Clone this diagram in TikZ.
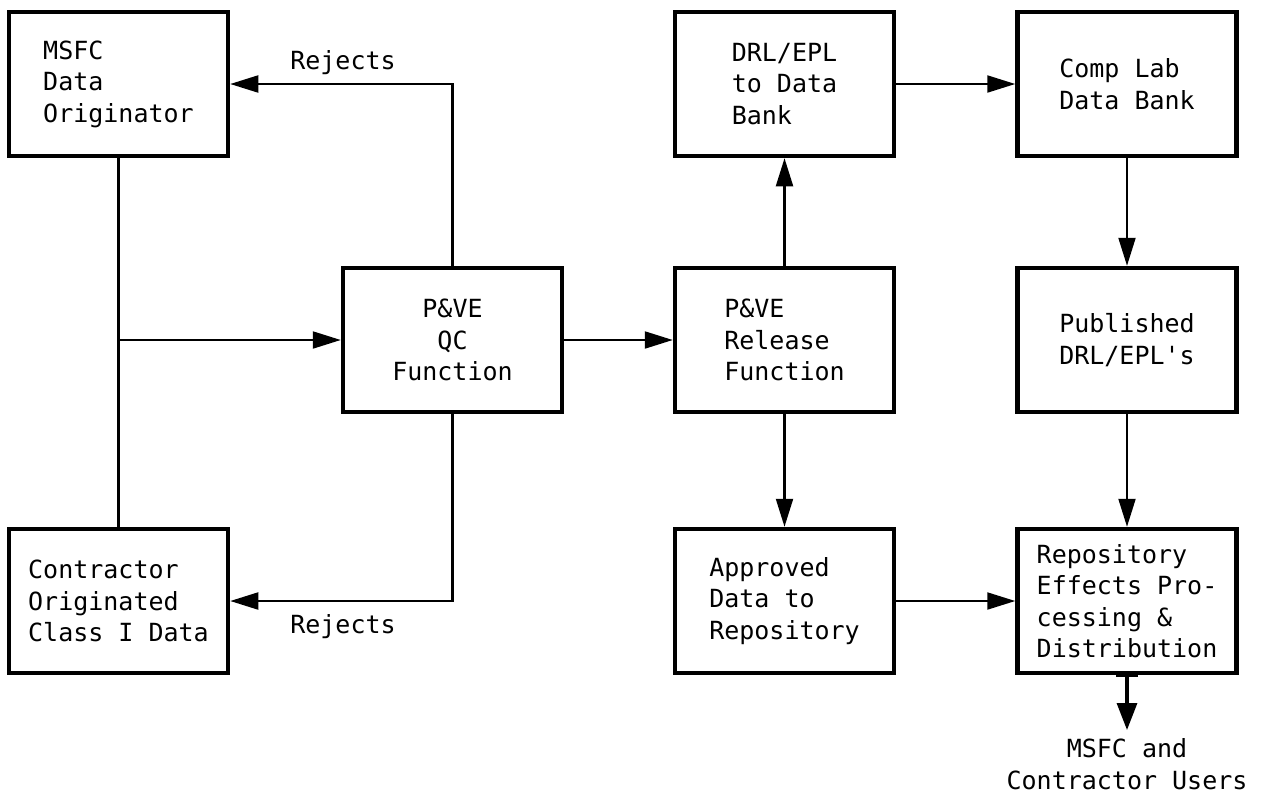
\documentclass[tikz,border=0pt]{standalone}
\usepackage{fontspec}
\setmonofont{DejaVu Sans Mono}
\usetikzlibrary{arrows.meta}
\newcommand\diagfont{\ttfamily\fontsize{25}{31.5}\selectfont}
\begin{document}
\begin{tikzpicture}[x=1pt,y=-1pt,
  box/.style={draw, line width=4.5pt, minimum width=219pt, minimum height=144pt,
              inner sep=0pt, align=left, font=\diagfont},
  conn/.style={line width=2.1pt},
  arr/.style={conn, -{Triangle[length=28pt,width=17pt]}},
  lbl/.style={font=\diagfont, inner sep=0pt, align=center}]
  \useasboundingbox (0,0) rectangle (1266,796);

  % column 1: originators
  \node[box] (msfc)  at (118.5,84)  {MSFC\\Data\\Originator};
  \node[box] (contr) at (118.5,601) {Contractor\\Originated\\Class I Data};
  % column 2: quality control
  \node[box, align=center] (qc) at (452.5,340) {P\&VE\\QC\\Function};
  % column 3: release path
  \node[box] (drl) at (784.5,84)  {DRL/EPL\\to Data\\Bank};
  \node[box] (rel) at (784.5,340) {P\&VE\\Release\\Function};
  \node[box] (app) at (784.5,601) {Approved\\Data to\\Repository};
  % column 4: data bank and repository
  \node[box] (comp) at (1127,84)  {Comp Lab\\Data Bank};
  \node[box] (pub)  at (1127,340) {Published\\DRL/EPL's};
  \node[box] (repo) at (1127,601) {Repository\\Effects Pro-\\cessing \&\\Distribution};

  % originators feed QC
  \coordinate (join) at (msfc.south |- qc.west);
  \draw[conn] (msfc.south) -- (msfc.south |- contr.north);
  \draw[arr] (join) -- (qc.west);

  % rejects returned to originators
  \draw[arr] (qc.north) -- (qc.north |- msfc.east) -- (msfc.east);
  \draw[arr] (qc.south) -- (qc.south |- contr.east) -- (contr.east);
  \node[lbl] (rejtop) at (343,63)  {Rejects};
  \node[lbl] (rejbot) at (343,627) {Rejects};

  % release path
  \draw[arr] (qc.east) -- (rel.west);
  \draw[arr] (rel.north) -- (drl.south);
  \draw[arr] (rel.south) -- (app.north);
  \draw[arr] (drl.east) -- (comp.west);
  \draw[arr] (comp.south) -- (pub.north);
  \draw[arr] (pub.south) -- (repo.north);
  \draw[arr] (app.east) -- (repo.west);

  % distribution to users
  \node[lbl] (users) at (1127,764) {MSFC and\\Contractor Users};
  \coordinate (outtip) at (1127,730);
  \draw[line width=2.5pt] (1116,676) -- (1138,676);
  \draw[line width=3.2pt, -{Triangle[length=27pt,width=20pt]}] (repo.south) -- (outtip);
\end{tikzpicture}
\end{document}
